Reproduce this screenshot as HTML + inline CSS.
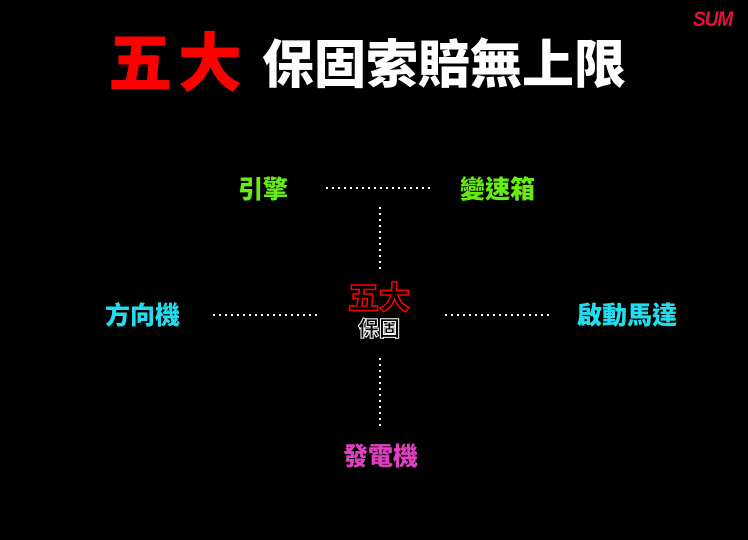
<!DOCTYPE html>
<html><head><meta charset="utf-8"><style>
html,body{margin:0;padding:0;background:#000;width:748px;height:540px;overflow:hidden;position:relative}
.t{position:absolute;white-space:nowrap;line-height:1;font-family:"Liberation Sans","Noto Sans CJK TC",sans-serif;font-weight:900}
.h{position:absolute;height:2px;background:repeating-linear-gradient(90deg,#fff 0 2px,transparent 2px 6px)}
.v{position:absolute;width:2px;background:repeating-linear-gradient(180deg,#fff 0 2px,transparent 2px 6px)}
</style></head><body>
<div class="t" style="left:693px;top:9px;font-size:21px;color:#e8103a;font-style:italic;font-weight:bold;letter-spacing:-1px;transform:scaleX(0.9);transform-origin:left">SUM</div>
<div class="t" style="left:108px;top:32px;font-size:64px;color:#f00;letter-spacing:6px">五大</div>
<div class="t" style="left:262px;top:40px;font-size:52px;color:#fff">保固索賠無上限</div>

<div class="t" style="left:238px;top:178px;font-size:25px;color:#66ee11">引擎</div>
<div class="t" style="left:460px;top:178px;font-size:25px;color:#66ee11">變速箱</div>
<div class="t" style="left:105px;top:304px;font-size:25px;color:#22ddee">方向機</div>
<div class="t" style="left:577px;top:304px;font-size:25px;color:#22ddee">啟動馬達</div>
<div class="t" style="left:343px;top:445px;font-size:25px;color:#e040c0">發電機</div>

<div class="t" style="left:348px;top:283px;font-size:31px;color:#000;-webkit-text-stroke:1.5px #f00">五大</div>
<div class="t" style="left:358px;top:319px;font-size:21px;color:#000;-webkit-text-stroke:1px #fff">保固</div>

<div class="h" style="left:326px;top:187px;width:108px"></div>
<div class="v" style="left:379px;top:207px;height:64px"></div>
<div class="h" style="left:213px;top:314px;width:108px"></div>
<div class="h" style="left:445px;top:314px;width:108px"></div>
<div class="v" style="left:379px;top:358px;height:68px"></div>
</body></html>
